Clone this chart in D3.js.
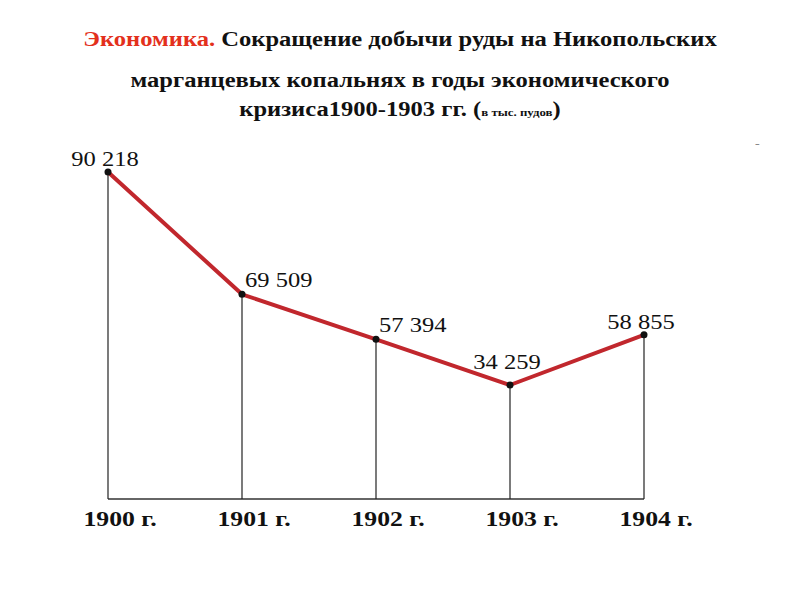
<!DOCTYPE html>
<html>
<head>
<meta charset="utf-8">
<script src="https://cdn.jsdelivr.net/npm/d3@7"></script>
<style>
  body { margin: 0; background: #fff; }
</style>
</head>
<body>
<div id="chart"></div>
<script>
// chart data
var years = ["1900 г.", "1901 г.", "1902 г.", "1903 г.", "1904 г."];
var values = [90218, 69509, 57394, 34259, 58855];
var valueLabels = ["90 218", "69 509", "57 394", "34 259", "58 855"];

var titleRed = "Экономика.";
var titleLine1 = " Сокращение добычи руды на Никопольских";
var titleLine2 = "марганцевых копальнях в годы экономического";
var titleLine3 = "кризиса1900-1903 гг. (";
var titleUnits = "в тыс. пудов";

function init(){
  var w = 800;
  var h = 600;
  var baseY = 499;
  var stretch = 1.17;   // the source picture is a bit wider than tall
  var serif = "'Liberation Serif', 'DejaVu Serif', serif";

  var svg = d3.select("#chart")
              .append("svg")
              .attr("width", w)
              .attr("height", h)
              .style("font-family", serif);

  function place(sel, x, y){
    return sel.attr("transform", "translate(" + x + "," + y + ") scale(" + stretch + ",1)");
  }

  // title
  var t1 = svg.append("text")
      .attr("text-anchor", "middle")
      .attr("font-family", serif)
      .attr("font-size", 21)
      .attr("font-weight", "bold")
      .attr("fill", "#111");
  place(t1, 400, 46);
  t1.append("tspan").attr("fill", "#e3301c").text(titleRed);
  t1.append("tspan").text(titleLine1);

  var t2 = svg.append("text")
      .attr("text-anchor", "middle")
      .attr("font-family", serif)
      .attr("font-size", 21)
      .attr("font-weight", "bold")
      .attr("fill", "#111")
      .text(titleLine2);
  place(t2, 400, 87);

  var t3 = svg.append("text")
      .attr("text-anchor", "middle")
      .attr("font-family", serif)
      .attr("font-size", 21)
      .attr("font-weight", "bold")
      .attr("fill", "#111");
  place(t3, 400, 116);
  t3.append("tspan").text(titleLine3);
  t3.append("tspan").attr("font-size", 11).text(titleUnits);
  t3.append("tspan").text(")");

  var dash = svg.append("text")
      .attr("font-family", serif)
      .attr("font-size", 12)
      .attr("fill", "#888")
      .text("-");
  place(dash, 755, 148);

  // scales
  var xScale = d3.scalePoint()
                 .domain(years)
                 .range([108, 644]);

  var yScale = d3.scalePow()
                 .exponent(3)
                 .domain(d3.extent(values))
                 .range([385, 172]);

  var pts = values.map(function(d, i){ return { year: years[i], value: d, label: valueLabels[i], i: i }; });

  // baseline
  svg.append("line")
     .attr("x1", xScale(years[0]))
     .attr("x2", xScale(years[years.length - 1]))
     .attr("y1", baseY)
     .attr("y2", baseY)
     .attr("stroke", "#333")
     .attr("stroke-width", 1.5);

  // drop lines
  svg.selectAll("line.drop")
     .data(pts)
     .enter()
     .append("line")
     .attr("class", "drop")
     .attr("x1", function(d){ return xScale(d.year); })
     .attr("x2", function(d){ return xScale(d.year); })
     .attr("y1", function(d){ return yScale(d.value); })
     .attr("y2", baseY)
     .attr("stroke", "#222")
     .attr("stroke-width", 1.2);

  var line = d3.line()
               .x(function(d){ return xScale(d.year); })
               .y(function(d){ return yScale(d.value); });

  svg.append("path")
     .datum(pts)
     .attr("d", line)
     .attr("fill", "none")
     .attr("stroke", "#c1272d")
     .attr("stroke-width", 4)
     .attr("stroke-linejoin", "round");

  svg.selectAll("circle")
     .data(pts)
     .enter()
     .append("circle")
     .attr("cx", function(d){ return xScale(d.year); })
     .attr("cy", function(d){ return yScale(d.value); })
     .attr("r", 3.5)
     .attr("fill", "#111");

  // value labels: endpoints and the low point centred, the falling middle ones to the right
  var n = values.length;
  function isMin(i){ return i > 0 && i < n - 1 && values[i] < values[i - 1] && values[i] < values[i + 1]; }
  function isEnd(i){ return i == 0 || i == n - 1; }

  svg.selectAll("text.val")
     .data(pts)
     .enter()
     .append("text")
     .attr("class", "val")
     .attr("font-family", serif)
     .attr("font-size", 21)
     .attr("fill", "#111")
     .attr("text-anchor", function(d){ return (isEnd(d.i) || isMin(d.i)) ? "middle" : "start"; })
     .attr("transform", function(d){
        var x = xScale(d.year);
        var y = yScale(d.value);
        if(isEnd(d.i)){ x = x - 3; y = y - 6; }
        else if(isMin(d.i)){ x = x - 3; y = y - 16; }
        else { x = x + 3; y = y - 7; }
        return "translate(" + x + "," + y + ") scale(" + stretch + ",1)";
     })
     .text(function(d){ return d.label; });

  // year labels
  svg.selectAll("text.year")
     .data(years)
     .enter()
     .append("text")
     .attr("class", "year")
     .attr("font-family", serif)
     .attr("font-size", 22)
     .attr("font-weight", "bold")
     .attr("fill", "#111")
     .attr("text-anchor", "middle")
     .attr("transform", function(d){
        return "translate(" + (xScale(d) + 12) + "," + 526 + ") scale(" + stretch + ",1)";
     })
     .text(function(d){ return d; });
}

window.onload = init;
</script>
</body>
</html>
